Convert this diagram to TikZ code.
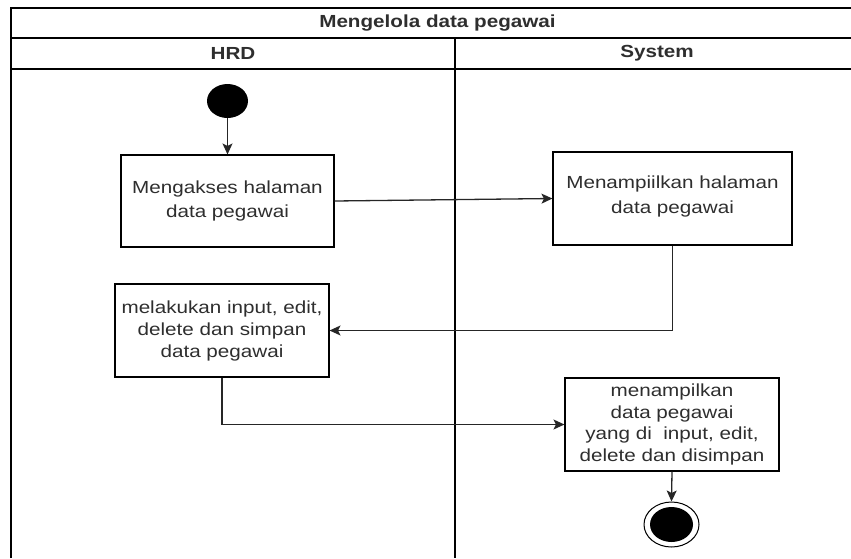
\documentclass[tikz,border=0pt]{standalone}
\usepackage{fontspec}
\setmainfont{Liberation Sans}[FakeStretch=1.18]
\usetikzlibrary{arrows.meta,shapes.geometric}
\definecolor{txt}{HTML}{2E2E2E}
\begin{document}
\begin{tikzpicture}[x=1pt,y=-1pt,
  frame/.style={line width=1.3pt,draw=black},
  actbox/.style={draw=black,line width=1.1pt,rectangle,align=center,text=txt,
    font=\fontsize{17.5}{22}\selectfont,inner sep=2pt},
  hdr/.style={font=\bfseries\fontsize{17.5}{20}\selectfont,text=txt},
  flow/.style={draw=black!85,line width=1.3pt,-{Stealth[length=11pt,width=10pt,inset=2.5pt]}}]
\useasboundingbox (0,0) rectangle (851,558);
% frame
\draw[line width=2pt] (11,558) -- (11,8) -- (851,8);
\draw[frame] (11,38) -- (851,38);
\draw[frame] (11,69) -- (851,69);
\draw[frame] (455,38) -- (455,558);
\node[hdr] (title) at (437.5,23) {Mengelola data pegawai};
\node[hdr] (hrd) at (233,53.5) {HRD};
\node[hdr] (sys) at (657,53.5) {System};
% nodes
\node[ellipse,fill=black,minimum width=41pt,minimum height=34pt,inner sep=0pt] (start) at (227.5,101) {};
\node[actbox,minimum width=213pt,minimum height=92pt,font=\fontsize{17.5}{24}\selectfont] (b1) at (227.5,201) {Mengakses halaman\\data pegawai};
\node[actbox,minimum width=239pt,minimum height=93pt,font=\fontsize{17.5}{25}\selectfont] (b2) at (672.5,198.5) {};
\node[align=center,text=txt,font=\fontsize{17.5}{25}\selectfont] (b2t) at (672.5,196) {Menampiilkan halaman\\data pegawai};
\node[actbox,minimum width=214pt,minimum height=93pt] (b3) at (222,330.5) {melakukan input, edit,\\delete dan simpan\\data pegawai};
\node[actbox,minimum width=214pt,minimum height=93pt,font=\fontsize{17.5}{21.5}\selectfont] (b4) at (672,424.5) {menampilkan\\data pegawai\\yang di\ \ input, edit,\\delete dan disimpan};
\node[ellipse,draw=black,line width=1pt,minimum width=55pt,minimum height=45pt,inner sep=0pt] (end) at (671.5,524.5) {};
\node[ellipse,fill=black,minimum width=43pt,minimum height=35pt,inner sep=0pt] (endin) at (end.center) {};
% connectors
\draw[flow] (start.south) -- (b1.north);
\draw[flow] (b1.east) -- (b2.west);
\draw[flow] (b2.south) |- (b3.east);
\draw[flow] (b3.south) |- (b4.west);
\draw[flow] (b4.south) -- (end.north);
\end{tikzpicture}
\end{document}
